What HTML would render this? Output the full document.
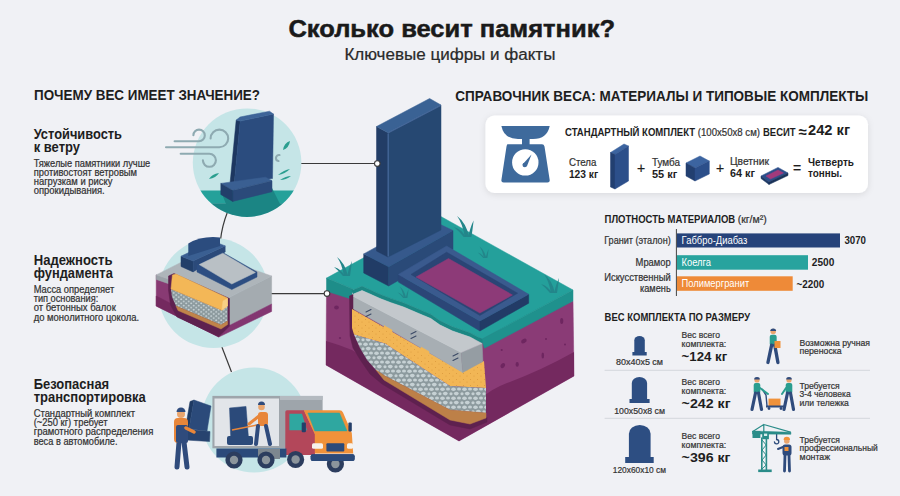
<!DOCTYPE html>
<html><head><meta charset="utf-8"><style>
html,body{margin:0;padding:0;background:#f0f1f5;}
svg{display:block;font-family:"Liberation Sans",sans-serif;}
</style></head><body>
<svg width="900" height="496" viewBox="0 0 900 496">
<rect width="900" height="496" fill="#f0f1f5"/>
<defs><clipPath id="c1"><circle cx="247.1" cy="162.7" r="54.3"/></clipPath>
<pattern id="grav2" width="5" height="4.2" patternUnits="userSpaceOnUse"><rect width="5" height="4.2" fill="#8c9a9e"/><ellipse cx="1.2" cy="1.1" rx="1.05" ry="0.85" fill="#c6d1d4"/><ellipse cx="3.7" cy="3.1" rx="1.05" ry="0.85" fill="#c6d1d4"/></pattern>
<pattern id="sandp" width="7" height="6" patternUnits="userSpaceOnUse"><rect width="7" height="6" fill="#f2b655"/><circle cx="1.5" cy="1.5" r="0.5" fill="#d9963a"/><circle cx="5" cy="4" r="0.5" fill="#d9963a"/></pattern>
<pattern id="grav" width="11" height="9" patternUnits="userSpaceOnUse"><rect width="11" height="9" fill="#8c9a9e"/><ellipse cx="2.5" cy="2.3" rx="2.3" ry="1.8" fill="#c6d1d4"/><ellipse cx="8" cy="2" rx="2" ry="1.6" fill="#c6d1d4"/><ellipse cx="5.3" cy="6.6" rx="2.4" ry="1.8" fill="#c6d1d4"/><ellipse cx="0" cy="6.8" rx="1.6" ry="1.5" fill="#c6d1d4"/><ellipse cx="11" cy="6.8" rx="1.6" ry="1.5" fill="#c6d1d4"/></pattern>
<filter id="sh" x="-10%" y="-20%" width="120%" height="150%"><feDropShadow dx="0" dy="1.5" stdDeviation="3" flood-color="#000" flood-opacity="0.10"/></filter></defs>
<line x1="300" y1="163.5" x2="377" y2="163.5" stroke="#3a3a3a" stroke-width="1.2"/>
<line x1="269" y1="293.6" x2="327" y2="293.6" stroke="#3a3a3a" stroke-width="1.2"/>
<path d="M227.5,212 Q222,226 220.5,240" fill="none" stroke="#3a3a3a" stroke-width="1.2"/>
<path d="M221.5,346 L231.5,372" fill="none" stroke="#3a3a3a" stroke-width="1.2"/>
<circle cx="247.1" cy="162.7" r="54.3" fill="#c5e5e7"/>
<g clip-path="url(#c1)">
<rect x="190" y="190.5" width="120" height="13" fill="#24a19a"/>
<rect x="190" y="203.3" width="120" height="20" fill="#1b8584"/>
<path d="M222,194 L272,188 L280,204 L226,204 Z" fill="#1b8584"/>
</g>
<g fill="none" stroke="#8eaab1" stroke-width="2.1" stroke-linecap="round"><path d="M174.6,141.2 H199 A5.8,5.8 0 0 0 199,129.6 A5.6,5.6 0 0 0 193.4,135.2"/><path d="M166,147.2 H219.4 A8.8,8.8 0 0 0 219.4,129.6 A8.8,8.8 0 0 0 210.6,138.4"/><path d="M180.7,153.8 H209.4 A6.5,6.5 0 0 1 209.4,166.8 A6.5,6.5 0 0 1 202.9,160.3"/><path d="M279.5,155 a3,3 0 1 0 -1,6"/></g>
<g fill="#2a9e8f"><path d="M283,150 Q284,143 290,141 Q289,148 283,150Z"/><path d="M209,179 Q212,174 219,173 Q216,178 209,179Z"/><path d="M278,175 Q284,170 290,169 Q285,174 278,175Z"/><path d="M280,180 Q286,176 291,176 Q286,180 280,180Z"/></g>
<polygon points="236.2,120.1 240.2,121.1 234.2,183.6 230.1,182.6" fill="#1d3760" stroke="#1d3760" stroke-width="0.5" stroke-linejoin="round" />
<polygon points="240.2,121.1 273.5,114.1 272.5,178.6 234.2,183.6" fill="#2b4c7e" stroke="#2b4c7e" stroke-width="0.5" stroke-linejoin="round" />
<polygon points="236.2,120.1 240.0,117.0 269.5,111.2 273.5,114.1 240.2,121.1" fill="#3d6498" stroke="#3d6498" stroke-width="0.5" stroke-linejoin="round" />
<polygon points="220.8,183.4 265.5,177.2 272.0,180.8 232.7,190.6" fill="#3a5f92" stroke="#3a5f92" stroke-width="0.5" stroke-linejoin="round" />
<polygon points="232.7,190.6 272.0,180.8 272.0,191.7 232.7,201.4" fill="#2b4a7a" stroke="#2b4a7a" stroke-width="0.5" stroke-linejoin="round" />
<polygon points="220.8,183.4 232.7,190.6 232.7,201.4 220.8,194.5" fill="#223f6a" stroke="#223f6a" stroke-width="0.5" stroke-linejoin="round" />
<circle cx="213.5" cy="293" r="55" fill="#c5e5e7"/>
<polygon points="156.2,274.9 225.4,299.3 218.8,337.0 156.2,306.0" fill="#883a73" stroke="#883a73" stroke-width="0.5" stroke-linejoin="round" />
<polygon points="156.2,296.0 218.8,328.0 218.8,337.0 156.2,306.0" fill="#74295f" stroke="#74295f" stroke-width="0.5" stroke-linejoin="round" />
<polygon points="156.2,274.9 225.4,299.3 225.4,303.5 156.2,279.4" fill="#9aa2a8" stroke="#9aa2a8" stroke-width="0.5" stroke-linejoin="round" />
<polygon points="225.4,299.3 271.6,276.0 271.6,304.0 225.4,327.5" fill="#a4abb0" stroke="#a4abb0" stroke-width="0.5" stroke-linejoin="round" />
<polygon points="225.4,327.5 271.6,304.0 271.6,311.5 218.8,337.0" fill="#833671" stroke="#833671" stroke-width="0.5" stroke-linejoin="round" />
<polygon points="156.2,274.9 202.4,251.6 271.6,276.0 225.4,299.3" fill="#aeb5ba" stroke="#aeb5ba" stroke-width="0.5" stroke-linejoin="round" />
<polygon points="168.5,276.0 174.0,273.5 229.5,298.5 229.5,326.0 219.0,336.5 177.0,317.0 170.5,305.0 168.5,290.0" fill="#5e214f" stroke="#5e214f" stroke-width="0.5" stroke-linejoin="round" />
<polygon points="171.0,289.0 221.8,310.3 227.6,306.0 227.6,321.0 221.0,325.0 176.0,306.0 172.0,297.0" fill="url(#grav2)" />
<polygon points="176.0,306.0 221.0,325.0 227.6,321.0 227.6,324.5 221.0,329.0 178.0,310.5" fill="#c0844a" stroke="#c0844a" stroke-width="0.5" stroke-linejoin="round" />
<polygon points="172.4,275.0 176.0,274.0 227.5,298.0 227.5,306.0 221.8,310.3 171.0,289.0" fill="#f3b757" stroke="#f3b757" stroke-width="0.5" stroke-linejoin="round" />
<polygon points="221.8,310.3 227.5,306.0 227.5,298.5 223.0,301.0" fill="#f8cf84" stroke="#f8cf84" stroke-width="0.5" stroke-linejoin="round" />
<polygon points="181.0,256.2 193.1,261.0 193.1,271.9 181.0,266.5" fill="#223f6a" stroke="#223f6a" stroke-width="0.5" stroke-linejoin="round" />
<polygon points="193.1,261.0 225.2,245.9 225.2,252.0 193.1,271.9" fill="#2b4a7a" stroke="#2b4a7a" stroke-width="0.5" stroke-linejoin="round" />
<polygon points="181.0,256.2 213.0,241.0 225.2,245.9 193.1,261.0" fill="#3a5f92" stroke="#3a5f92" stroke-width="0.5" stroke-linejoin="round" />
<path d="M188.3,256 L188.3,243.5 Q202,235.5 220,237.5 L220,246 Z" fill="#2b4c7e"/>
<polygon points="197.0,265.0 222.8,252.5 257.0,272.0 257.0,277.0 231.8,289.5 197.0,272.0" fill="#2d4e82" stroke="#2d4e82" stroke-width="0.5" stroke-linejoin="round" />
<polygon points="199.2,264.6 222.8,253.2 255.4,272.5 231.8,284.0" fill="#b9c0c5" stroke="#b9c0c5" stroke-width="0.5" stroke-linejoin="round" />
<circle cx="254" cy="420" r="52.5" fill="#c5e5e7"/>
<rect x="212.4" y="395.9" width="110.2" height="52.4" fill="#9ea5ab"/>
<rect x="214.5" y="398.5" width="64.5" height="47.5" fill="#e2e5e9"/>
<rect x="280" y="396" width="42.6" height="4" fill="#b4bac0"/>
<polygon points="229.5,408.0 246.0,406.4 249.0,444.4 231.0,444.4" fill="#2b4a7a" stroke="#2b4a7a" stroke-width="0.5" stroke-linejoin="round" />
<rect x="227" y="436" width="26" height="9" rx="2" fill="#2b4a7a"/>
<path d="M232,430 L262,424" stroke="#e8863a" stroke-width="1.6"/>
<rect x="258" y="412" width="10" height="14" rx="3" fill="#e8863a"/>
<path d="M258,426 L256,444 M266,426 L270,444" stroke="#2f4b7c" stroke-width="4" stroke-linecap="round"/>
<circle cx="261.5" cy="407" r="3.3" fill="#e9a56e"/>
<path d="M258,405 a3.5,3.5 0 0 1 7,0 Z" fill="#2f4b7c"/>
<path d="M259,416 L249,424" stroke="#e8863a" stroke-width="3" stroke-linecap="round"/>
<path d="M285.3,412 Q285.3,410.3 287,410.3 L304,410.3 L315,434 L315,455 L285.3,455 Z" fill="#b3475a"/>
<path d="M289.4,413.7 L302,413.7 L307,430.2 L289.4,430.2 Z" fill="#2fa7a0"/>
<path d="M303.8,410.3 L339.5,410.3 Q342,410.3 343,412.5 L351.8,432.9 L353.2,453.5 L314.8,453.5 L314.8,434.3 Z" fill="#f0923a"/>
<polygon points="307.9,413.0 339.5,413.0 347.0,430.9 314.8,430.9" fill="#2fa7a0" stroke="#2fa7a0" stroke-width="0.5" stroke-linejoin="round" />
<rect x="301.7" y="422.6" width="4.2" height="9.6" rx="1" fill="#243f69"/>
<rect x="348.4" y="422.6" width="3.4" height="9" rx="1" fill="#243f69"/>
<rect x="312" y="443.2" width="11" height="5.5" rx="1.5" fill="#f6f2ec"/>
<rect x="347" y="443.2" width="6" height="5.5" rx="1.5" fill="#f6f2ec"/>
<rect x="326.4" y="443.2" width="17.9" height="8.2" rx="1" fill="#2b4a7a"/>
<rect x="310.7" y="454.2" width="43.9" height="6.8" rx="2" fill="#2b4a7a"/>
<rect x="216.4" y="448.5" width="70" height="9" fill="#2b4a7a"/>
<rect x="258" y="449" width="22" height="10" fill="#7d878f"/>
<circle cx="234" cy="460" r="8.6" fill="#2c3d5e"/><circle cx="234" cy="460" r="4.2" fill="#8c959c"/>
<circle cx="266" cy="460" r="8.6" fill="#2c3d5e"/><circle cx="266" cy="460" r="4.2" fill="#8c959c"/>
<circle cx="295.6" cy="459.5" r="8.6" fill="#2c3d5e"/><circle cx="295.6" cy="459.5" r="4.2" fill="#8c959c"/>
<circle cx="335.4" cy="464" r="8.6" fill="#2c3d5e"/><circle cx="335.4" cy="464" r="4.2" fill="#8c959c"/>
<rect x="310.7" y="454.2" width="43.9" height="6.8" rx="2" fill="#2b4a7a"/>
<polygon points="190.0,401.5 194.0,400.0 189.0,429.0 185.5,428.0" fill="#1f3a63" stroke="#1f3a63" stroke-width="0.5" stroke-linejoin="round" />
<polygon points="194.0,400.0 211.0,406.0 207.0,431.0 189.0,429.0" fill="#2b4a7a" stroke="#2b4a7a" stroke-width="0.5" stroke-linejoin="round" />
<polygon points="185.6,429.0 210.0,431.5 209.6,441.5 185.6,440.0" fill="#27436f" stroke="#27436f" stroke-width="0.5" stroke-linejoin="round" />
<path d="M179,442 L177,467 M184,442 L187,467" stroke="#2f4b7c" stroke-width="5" stroke-linecap="round"/>
<rect x="174" y="418" width="14" height="25" rx="4" fill="#e8863a"/>
<rect x="176" y="425" width="12" height="18" rx="2" fill="#2f4b7c"/>
<circle cx="181" cy="414" r="4" fill="#e9a56e"/>
<path d="M176.5,412 a4.5,4.5 0 0 1 9,0 Z" fill="#2f4b7c"/>
<path d="M186,428 L194,432" stroke="#e8863a" stroke-width="3.5" stroke-linecap="round"/>
<polygon points="326.5,290.5 352.5,298.5 461.0,360.0 459.0,441.0 326.0,365.0" fill="#883a73" stroke="#883a73" stroke-width="0.5" stroke-linejoin="round" />
<polygon points="461.0,345.0 573.0,301.0 574.0,376.0 459.0,441.0" fill="#8a3b76" stroke="#8a3b76" stroke-width="0.5" stroke-linejoin="round" />
<path d="M326,341 Q340,345 352,350 L470,430 L459,441 L326,365 Z" fill="#74295f"/>
<path d="M462,425 Q475,395 507,383 Q540,371 574,352 L574,376 L459,441 Z" fill="#74295f"/>
<g fill="#6e2660"><ellipse cx="523.9" cy="341" rx="3" ry="2" transform="rotate(-30 523.9 341)"/><ellipse cx="561.7" cy="321" rx="1.6" ry="3"/><ellipse cx="502.8" cy="365.6" rx="2" ry="2.8" transform="rotate(30 502.8 365.6)"/><ellipse cx="517.2" cy="364.4" rx="1.6" ry="2.4"/><ellipse cx="542.8" cy="355.6" rx="1.3" ry="3"/><circle cx="501.7" cy="350" r="1.1"/><circle cx="546" cy="339" r="1"/><circle cx="565" cy="344.4" r="1"/><ellipse cx="336.5" cy="307.5" rx="2.4" ry="2"/><circle cx="340" cy="338" r="1.1"/></g>
<polygon points="326.5,278.1 440.0,216.0 573.0,290.0 482.1,339.3 470.0,332.8 452.6,326.8 440.0,320.8 430.8,314.3 420.0,309.8 403.6,302.8 391.0,298.5 380.0,294.3 370.0,289.8 362.0,286.3 353.5,289.8 352.2,288.7" fill="#24a09b" stroke="#24a09b" stroke-width="0.5" stroke-linejoin="round" />
<polygon points="326.5,278.1 352.2,288.7 352.0,299.3 326.5,291.2" fill="#1e8d89" stroke="#1e8d89" stroke-width="0.5" stroke-linejoin="round" />
<polygon points="481.3,339.4 573.0,290.0 573.0,301.0 484.5,348.2" fill="#1f918d" stroke="#1f918d" stroke-width="0.5" stroke-linejoin="round" />
<polygon points="352.0,289.0 353.5,289.8 362.0,286.3 370.0,289.8 380.0,294.3 391.0,298.5 403.6,302.8 420.0,309.8 430.8,314.3 440.0,320.8 452.6,326.8 470.0,332.8 482.1,339.3 482.1,343.5 470.0,337.0 452.6,331.0 440.0,325.0 430.8,318.5 420.0,314.0 403.6,307.0 391.0,302.7 380.0,298.5 370.0,294.0 362.0,290.5 353.5,294.0 352.0,292.0" fill="#1b8783" stroke="#1b8783" stroke-width="0.5" stroke-linejoin="round" />
<polygon points="349.5,296.0 354.0,294.0 354.0,335.0 359.0,347.0 366.0,358.0 374.0,369.0 385.0,379.0 450.0,420.0 470.0,424.0 487.0,417.0 487.0,422.0 470.0,429.0 450.0,425.0 382.0,384.0 370.0,374.0 361.0,361.0 353.0,348.0 350.0,336.0" fill="#5e214f" stroke="#5e214f" stroke-width="0.5" stroke-linejoin="round" />
<polygon points="352.0,309.0 461.0,371.0 484.0,361.0 486.0,388.0 450.0,386.0 385.0,343.5 354.0,334.4 352.0,328.0" fill="url(#sandp)" />
<polygon points="354.0,334.4 385.0,343.5 450.0,386.0 486.0,388.0 486.0,413.0 450.0,410.0 385.0,376.0 376.0,370.0 367.0,360.0 360.0,348.0" fill="url(#grav)" />
<polygon points="376.0,370.0 385.0,376.0 450.0,410.0 486.0,413.0 486.0,418.0 470.0,424.0 450.0,420.0 384.0,380.0" fill="#bd8048" stroke="#bd8048" stroke-width="0.5" stroke-linejoin="round" />
<polygon points="353.5,296.5 461.1,352.5 462.7,372.5 380.0,324.0 353.5,309.0" fill="#a7aeb3" stroke="#a7aeb3" stroke-width="0.5" stroke-linejoin="round" />
<polygon points="461.1,352.5 482.1,343.5 482.9,361.5 462.7,372.5" fill="#959da3" stroke="#959da3" stroke-width="0.5" stroke-linejoin="round" />
<polygon points="353.5,294.0 362.0,290.5 370.0,294.0 380.0,298.5 391.0,302.7 403.6,307.0 420.0,314.0 430.8,318.5 440.0,325.0 452.6,331.0 470.0,337.0 482.1,343.5 461.1,352.5 353.5,296.5" fill="#c3c8cc" stroke="#c3c8cc" stroke-width="0.5" stroke-linejoin="round" />
<polygon points="384.0,325.5 392.0,330.0 392.0,334.0 384.0,329.5" fill="#f2b655" stroke="#f2b655" stroke-width="0.5" stroke-linejoin="round" />
<polygon points="421.0,347.0 429.0,351.5 429.0,355.5 421.0,351.0" fill="#f2b655" stroke="#f2b655" stroke-width="0.5" stroke-linejoin="round" />
<g stroke="#3b4a66" stroke-width="1.1" stroke-linecap="round"><path d="M366,312 l5,-2.5 M366,316.5 l5,-2.5 M411,334 l5,-2.5 M411,338.5 l5,-2.5 M453,356 l5,-2.5 M453,360.5 l5,-2.5"/></g>
<polygon points="363.7,253.9 388.7,266.8 388.7,286.0 363.7,273.0" fill="#213c66" stroke="#213c66" stroke-width="0.5" stroke-linejoin="round" />
<polygon points="388.7,266.8 453.0,230.5 453.0,249.5 388.7,286.0" fill="#2a4a78" stroke="#2a4a78" stroke-width="0.5" stroke-linejoin="round" />
<polygon points="363.7,253.9 428.0,218.5 453.0,230.5 388.7,266.8" fill="#36598c" stroke="#36598c" stroke-width="0.5" stroke-linejoin="round" />
<polygon points="376.5,126.5 388.0,132.7 388.0,257.0 376.5,251.0" fill="#223d66" stroke="#223d66" stroke-width="0.5" stroke-linejoin="round" />
<polygon points="388.0,132.7 441.0,105.0 441.0,230.0 388.0,257.0" fill="#264872" stroke="#264872" stroke-width="0.5" stroke-linejoin="round" />
<polygon points="376.5,126.5 429.6,98.5 441.0,105.0 388.0,132.7" fill="#3a6294" stroke="#3a6294" stroke-width="0.5" stroke-linejoin="round" />
<path d="M388.2,133.5 V256.5" stroke="#46679a" stroke-width="1.3"/>
<path d="M388.2,133 L441,105.5" stroke="#46679a" stroke-width="0.9"/>
<polygon points="398.4,274.4 479.9,321.0 479.9,331.0 398.4,282.1" fill="#2b4677" stroke="#2b4677" stroke-width="0.5" stroke-linejoin="round" />
<polygon points="479.9,321.0 528.7,294.3 528.7,303.2 479.9,331.0" fill="#223b66" stroke="#223b66" stroke-width="0.5" stroke-linejoin="round" />
<polygon points="398.4,274.4 446.6,246.0 528.7,294.3 479.9,321.0" fill="#3a5a8e" stroke="#3a5a8e" stroke-width="0.5" stroke-linejoin="round" />
<polygon points="411.0,274.4 446.6,252.2 517.6,293.2 479.9,315.4" fill="#2a4575" stroke="#2a4575" stroke-width="0.5" stroke-linejoin="round" />
<polygon points="416.0,277.0 448.5,258.5 512.5,295.0 479.9,313.0" fill="#8d3a78" stroke="#8d3a78" stroke-width="0.5" stroke-linejoin="round" />
<g fill="#23868a"><path d="M344.0,276 Q342.0,264.0 337.0,257.0 Q345.0,263.0 348.0,276 Z"/><path d="M347.0,276 Q349.0,267.0 352.0,261.0 Q351.0,270.0 350.0,276 Z"/><path d="M343.0,276 Q339.0,271.0 334.0,267.0 Q341.0,269.0 345.0,276 Z"/></g>
<g fill="#23868a"><path d="M464.8,237 Q462.6,223.8 457.1,216.1 Q465.9,222.7 469.2,237 Z"/><path d="M468.1,237 Q470.3,227.1 473.6,220.5 Q472.5,230.4 471.4,237 Z"/><path d="M463.7,237 Q459.3,231.5 453.8,227.1 Q461.5,229.3 465.9,237 Z"/></g>
<g fill="#23868a"><path d="M483.8,258 Q482.6,250.8 479.6,246.6 Q484.4,250.2 486.2,258 Z"/><path d="M485.6,258 Q486.8,252.6 488.6,249.0 Q488.0,254.4 487.4,258 Z"/><path d="M483.2,258 Q480.8,255.0 477.8,252.6 Q482.0,253.8 484.4,258 Z"/></g>
<g fill="#23868a"><path d="M551.0,293 Q549.0,281.0 544.0,274.0 Q552.0,280.0 555.0,293 Z"/><path d="M554.0,293 Q556.0,284.0 559.0,278.0 Q558.0,287.0 557.0,293 Z"/><path d="M550.0,293 Q546.0,288.0 541.0,284.0 Q548.0,286.0 552.0,293 Z"/></g>
<g fill="#23868a"><path d="M403.8,298 Q402.6,290.8 399.6,286.6 Q404.4,290.2 406.2,298 Z"/><path d="M405.6,298 Q406.8,292.6 408.6,289.0 Q408.0,294.4 407.4,298 Z"/><path d="M403.2,298 Q400.8,295.0 397.8,292.6 Q402.0,293.8 404.4,298 Z"/></g>
<circle cx="377.3" cy="163.5" r="2.8" fill="#fff" stroke="#3a3a3a" stroke-width="1.1"/>
<circle cx="327" cy="293.6" r="2.8" fill="#fff" stroke="#3a3a3a" stroke-width="1.1"/>
<rect x="485.5" y="115.5" width="382.5" height="77.5" rx="9" fill="#ffffff" filter="url(#sh)"/>
<path d="M501.4,126 H549.7 Q547,139 533,139 H518 Q504,139 501.4,126 Z" fill="#3e6a9c"/>
<rect x="522" y="138" width="7.6" height="7" fill="#3e6a9c"/>
<path d="M507.5,144.2 H542 Q544,144.2 544.5,146.5 L549.7,180 Q550,182.5 547.5,182.5 H503.6 Q501,182.5 501.4,180 L506.5,146.5 Q507,144.2 507.5,144.2 Z" fill="#3e6a9c"/>
<circle cx="525.3" cy="162.4" r="13.2" fill="#ffffff"/>
<path d="M522.5,164.5 L531.5,154.5 L527,166 Z" fill="#3e6a9c"/><circle cx="524.8" cy="165" r="2.3" fill="#3e6a9c"/>
<polygon points="610.5,152.5 624.0,144.0 628.5,146.0 615.0,154.5" fill="#3c64a0" stroke="#3c64a0" stroke-width="0.5" stroke-linejoin="round" />
<polygon points="610.5,152.5 615.0,154.5 615.0,189.0 610.5,187.0" fill="#223f70" stroke="#223f70" stroke-width="0.5" stroke-linejoin="round" />
<polygon points="615.0,154.5 628.5,146.0 628.5,181.0 615.0,189.0" fill="#2c4f8a" stroke="#2c4f8a" stroke-width="0.5" stroke-linejoin="round" />
<polygon points="686.0,163.0 700.0,156.0 709.3,161.0 695.0,168.0" fill="#3c64a0" stroke="#3c64a0" stroke-width="0.5" stroke-linejoin="round" />
<polygon points="686.0,163.0 695.0,168.0 695.0,181.0 686.0,176.0" fill="#223f70" stroke="#223f70" stroke-width="0.5" stroke-linejoin="round" />
<polygon points="695.0,168.0 709.3,161.0 709.3,174.0 695.0,181.0" fill="#2c4f8a" stroke="#2c4f8a" stroke-width="0.5" stroke-linejoin="round" />
<polygon points="761.0,176.0 778.0,167.4 788.0,173.0 769.0,182.0" fill="#2c4f8a" stroke="#2c4f8a" stroke-width="0.5" stroke-linejoin="round" />
<polygon points="761.0,176.0 769.0,182.0 769.0,184.5 761.0,178.5" fill="#1f3a66" stroke="#1f3a66" stroke-width="0.5" stroke-linejoin="round" />
<polygon points="769.0,182.0 788.0,173.0 788.0,175.5 769.0,184.5" fill="#1a3359" stroke="#1a3359" stroke-width="0.5" stroke-linejoin="round" />
<polygon points="766.0,176.0 778.0,170.0 783.5,173.0 770.5,179.0" fill="#a23a7c" stroke="#a23a7c" stroke-width="0.5" stroke-linejoin="round" />
<line x1="676.4" y1="229" x2="676.4" y2="296" stroke="#444" stroke-width="1"/>
<rect x="677" y="233.4" width="163" height="14.1" fill="#26437a"/>
<rect x="677" y="255.2" width="131" height="14.5" fill="#28a39e"/>
<rect x="677" y="276.3" width="115.7" height="14.5" fill="#ee8a38"/>
<line x1="604.6" y1="370.3" x2="870" y2="370.3" stroke="#d4d7dc" stroke-width="1"/>
<line x1="604.6" y1="418.3" x2="870" y2="418.3" stroke="#d4d7dc" stroke-width="1"/>
<path d="M634.3,352 V340.25 A5.25,4.2 0 0 1 644.8,340.25 V352 Z" fill="#2d4e82"/><rect x="632.4" y="352" width="14.300000000000068" height="3.5" fill="#2d4e82"/>
<path d="M631.8,399 V383.05 A7.650000000000034,6.120000000000028 0 0 1 647.1,383.05 V399 Z" fill="#2d4e82"/><rect x="629.5" y="399" width="20.100000000000023" height="4" fill="#2d4e82"/>
<path d="M628.9,457 V433.65000000000003 A10.850000000000023,8.68000000000002 0 0 1 650.6,433.65000000000003 V457 Z" fill="#2d4e82"/><rect x="625.2" y="457" width="28.5" height="6" fill="#2d4e82"/>
<circle cx="773.2" cy="331.5" r="2.7300000000000004" fill="#e9a56e"/><path d="M770.26,330.975 a2.8,2.4 0 0 1 5.88,0 Z" fill="#2f4b7c"/><rect x="769.735" y="334.65" width="6.93" height="11.55" rx="2.1" fill="#2a9d8f"/><path d="M771.625,345.15 L767.95,362.475 M774.7750000000001,345.15 L777.9250000000001,362.475" stroke="#2f4b7c" stroke-width="3.3600000000000003" stroke-linecap="round"/>
<rect x="774.5" y="341" width="6" height="7" fill="#f0923a"/>
<circle cx="757" cy="380" r="2.6" fill="#e9a56e"/><path d="M754.2,379.5 a2.8,2.4 0 0 1 5.6,0 Z" fill="#2f4b7c"/><rect x="753.7" y="383.0" width="6.6" height="11.0" rx="2.0" fill="#2a9d8f"/><path d="M755.5,393.0 L752.0,409.5 M758.5,393.0 L761.5,409.5" stroke="#2f4b7c" stroke-width="3.2" stroke-linecap="round"/>
<circle cx="789" cy="380" r="2.6" fill="#e9a56e"/><path d="M786.2,379.5 a2.8,2.4 0 0 1 5.6,0 Z" fill="#2f4b7c"/><rect x="785.7" y="383.0" width="6.6" height="11.0" rx="2.0" fill="#2a9d8f"/><path d="M787.5,393.0 L784.0,409.5 M790.5,393.0 L793.5,409.5" stroke="#2f4b7c" stroke-width="3.2" stroke-linecap="round"/>
<path d="M762,389 L766,395 L767,406" stroke="#2f4b7c" stroke-width="1.4" fill="none"/>
<rect x="768.5" y="398.6" width="12" height="7.5" fill="#f0923a"/>
<rect x="766" y="405.5" width="18" height="2" fill="#2f4b7c"/>
<circle cx="769" cy="408.5" r="1.4" fill="#2f4b7c"/><circle cx="781" cy="408.5" r="1.4" fill="#2f4b7c"/>
<path d="M760,388 L768,394 M786,388 L782,394" stroke="#2a9d8f" stroke-width="2" stroke-linecap="round"/>
<g stroke="#2a8c89" fill="none" stroke-linecap="round"><path d="M761.8,438 V470 M766.4,438 V470" stroke-width="1.6"/><path d="M762,440 L766.2,445 L762,450 L766.2,455 L762,460 L766.2,465 L762,469" stroke-width="1"/><path d="M763.8,424.5 L752.8,431.5 M763.8,424.5 L790.5,432.2 M763.8,424.5 V432" stroke-width="1.2"/><path d="M776.6,434 V439.5 a2.2,2.2 0 1 1 -2.2,2.4" stroke="#2b4a7a" stroke-width="1.3"/></g>
<polygon points="752.5,431.0 790.9,432.3 790.9,434.3 752.5,434.0" fill="#2a8c89" stroke="#2a8c89" stroke-width="0.5" stroke-linejoin="round" />
<rect x="752.5" y="431" width="7.9" height="7" fill="#2a8c89"/>
<rect x="762.2" y="432.4" width="6.7" height="6.8" fill="#2a8c89"/>
<rect x="764" y="433.6" width="3.2" height="2.4" fill="#d6ecec"/>
<rect x="758.2" y="469.5" width="13.5" height="2.6" fill="#2a8c89"/>
<circle cx="786.8" cy="441" r="2.8" fill="#e9a56e"/>
<path d="M783.6,440 a3.2,3.2 0 0 1 6.4,0 Z" fill="#f0923a"/>
<rect x="782.5" y="444.5" width="9" height="11" rx="2.5" fill="#2f4b7c"/>
<path d="M785,455 L784.5,471 M789,455 L789.5,471" stroke="#2f4b7c" stroke-width="2.8" stroke-linecap="round"/>
<path d="M783,447 L778,449" stroke="#2f4b7c" stroke-width="2" stroke-linecap="round"/>
<rect x="784.5" y="447" width="4" height="4" fill="#f0923a"/>
<text x="288.4" y="37" font-size="24" font-weight="700" fill="#1a1a1a" textLength="326.6" lengthAdjust="spacingAndGlyphs" stroke="#1a1a1a" stroke-width="0.5">Сколько весит памятник?</text>
<text x="344.4" y="60.4" font-size="16" font-weight="400" fill="#2a2a2a" textLength="211" lengthAdjust="spacingAndGlyphs" stroke="#2a2a2a" stroke-width="0.22">Ключевые цифры и факты</text>
<text x="34" y="100" font-size="15" font-weight="700" fill="#1e1e1e" textLength="226" lengthAdjust="spacingAndGlyphs">ПОЧЕМУ ВЕС ИМЕЕТ ЗНАЧЕНИЕ?</text>
<text x="455.3" y="100.5" font-size="15" font-weight="700" fill="#1e1e1e" textLength="413" lengthAdjust="spacingAndGlyphs">СПРАВОЧНИК ВЕСА: МАТЕРИАЛЫ И ТИПОВЫЕ КОМПЛЕКТЫ</text>
<text x="33.7" y="139" font-size="14" font-weight="700" fill="#1e1e1e" textLength="88.3" lengthAdjust="spacingAndGlyphs">Устойчивость</text>
<text x="33.7" y="152.3" font-size="14" font-weight="700" fill="#1e1e1e" textLength="46.3" lengthAdjust="spacingAndGlyphs">к ветру</text>
<text x="33.7" y="166.7" font-size="10" font-weight="400" fill="#333333" textLength="116.6" lengthAdjust="spacingAndGlyphs" stroke="#333333" stroke-width="0.22">Тяжелые памятники лучше</text>
<text x="33.7" y="175.8" font-size="10" font-weight="400" fill="#333333" textLength="103.3" lengthAdjust="spacingAndGlyphs" stroke="#333333" stroke-width="0.22">противостоят ветровым</text>
<text x="33.7" y="185.3" font-size="10" font-weight="400" fill="#333333" textLength="78.8" lengthAdjust="spacingAndGlyphs" stroke="#333333" stroke-width="0.22">нагрузкам и риску</text>
<text x="33.7" y="194.2" font-size="10" font-weight="400" fill="#333333" textLength="71" lengthAdjust="spacingAndGlyphs" stroke="#333333" stroke-width="0.22">опрокидывания.</text>
<text x="33.7" y="264.7" font-size="14" font-weight="700" fill="#1e1e1e" textLength="78.8" lengthAdjust="spacingAndGlyphs">Надежность</text>
<text x="33.7" y="277.7" font-size="14" font-weight="700" fill="#1e1e1e" textLength="79.1" lengthAdjust="spacingAndGlyphs">фундамента</text>
<text x="33.7" y="292.5" font-size="10" font-weight="400" fill="#333333" textLength="80.5" lengthAdjust="spacingAndGlyphs" stroke="#333333" stroke-width="0.22">Масса определяет</text>
<text x="33.7" y="301.7" font-size="10" font-weight="400" fill="#333333" textLength="64.6" lengthAdjust="spacingAndGlyphs" stroke="#333333" stroke-width="0.22">тип основания:</text>
<text x="33.7" y="311.3" font-size="10" font-weight="400" fill="#333333" textLength="82.1" lengthAdjust="spacingAndGlyphs" stroke="#333333" stroke-width="0.22">от бетонных балок</text>
<text x="33.7" y="320.8" font-size="10" font-weight="400" fill="#333333" textLength="105.5" lengthAdjust="spacingAndGlyphs" stroke="#333333" stroke-width="0.22">до монолитного цокола.</text>
<text x="33.7" y="388.7" font-size="14" font-weight="700" fill="#1e1e1e" textLength="75.5" lengthAdjust="spacingAndGlyphs">Безопасная</text>
<text x="33.7" y="401.7" font-size="14" font-weight="700" fill="#1e1e1e" textLength="112.1" lengthAdjust="spacingAndGlyphs">транспортировка</text>
<text x="33.7" y="417" font-size="10" font-weight="400" fill="#333333" textLength="101.3" lengthAdjust="spacingAndGlyphs" stroke="#333333" stroke-width="0.22">Стандартный комплект</text>
<text x="33.7" y="425.8" font-size="10" font-weight="400" fill="#333333" textLength="73.8" lengthAdjust="spacingAndGlyphs" stroke="#333333" stroke-width="0.22">(~250 кг) требует</text>
<text x="33.7" y="435.3" font-size="10" font-weight="400" fill="#333333" textLength="119.6" lengthAdjust="spacingAndGlyphs" stroke="#333333" stroke-width="0.22">грамотного распределения</text>
<text x="33.7" y="445" font-size="10" font-weight="400" fill="#333333" textLength="83.8" lengthAdjust="spacingAndGlyphs" stroke="#333333" stroke-width="0.22">веса в автомобиле.</text>
<text x="565" y="136" font-size="10" font-weight="700" fill="#1e1e1e" textLength="130.1" lengthAdjust="spacingAndGlyphs">СТАНДАРТНЫЙ КОМПЛЕКТ</text>
<text x="697.8" y="136" font-size="10" font-weight="400" fill="#333333" textLength="62.2" lengthAdjust="spacingAndGlyphs" stroke="#333333" stroke-width="0.22">(100x50x8 см)</text>
<text x="763" y="136" font-size="10" font-weight="700" fill="#1e1e1e" textLength="32.6" lengthAdjust="spacingAndGlyphs">ВЕСИТ</text>
<text x="798.5" y="137" font-size="15" font-weight="700" fill="#1e1e1e">≈</text>
<text x="808" y="135.4" font-size="15" font-weight="700" fill="#1e1e1e" textLength="42" lengthAdjust="spacingAndGlyphs">242 кг</text>
<text x="568.9" y="165.7" font-size="10.5" font-weight="400" fill="#333333" textLength="27.5" lengthAdjust="spacingAndGlyphs" stroke="#333333" stroke-width="0.22">Стела</text>
<text x="568.9" y="177.6" font-size="10.5" font-weight="700" fill="#1e1e1e" textLength="29.3" lengthAdjust="spacingAndGlyphs">123 кг</text>
<text x="641" y="173" font-size="14" font-weight="400" fill="#1e1e1e" text-anchor="middle" stroke="#1e1e1e" stroke-width="0.22">+</text>
<text x="652" y="165.7" font-size="10.5" font-weight="400" fill="#333333" textLength="28" lengthAdjust="spacingAndGlyphs" stroke="#333333" stroke-width="0.22">Тумба</text>
<text x="652" y="177.6" font-size="10.5" font-weight="700" fill="#1e1e1e" textLength="25.3" lengthAdjust="spacingAndGlyphs">55 кг</text>
<text x="720" y="173" font-size="14" font-weight="400" fill="#1e1e1e" text-anchor="middle" stroke="#1e1e1e" stroke-width="0.22">+</text>
<text x="730" y="165" font-size="10.5" font-weight="400" fill="#333333" textLength="39" lengthAdjust="spacingAndGlyphs" stroke="#333333" stroke-width="0.22">Цветник</text>
<text x="730" y="177.4" font-size="10.5" font-weight="700" fill="#1e1e1e" textLength="25" lengthAdjust="spacingAndGlyphs">64 кг</text>
<text x="797" y="172.5" font-size="14" font-weight="400" fill="#1e1e1e" text-anchor="middle" stroke="#1e1e1e" stroke-width="0.22">=</text>
<text x="808" y="166" font-size="10.5" font-weight="700" fill="#1e1e1e" textLength="46" lengthAdjust="spacingAndGlyphs">Четверть</text>
<text x="808" y="177.4" font-size="10.5" font-weight="700" fill="#1e1e1e" textLength="34" lengthAdjust="spacingAndGlyphs">тонны.</text>
<text x="604.6" y="223.2" font-size="10.5" font-weight="700" fill="#1e1e1e" textLength="130.6" lengthAdjust="spacingAndGlyphs">ПЛОТНОСТЬ МАТЕРИАЛОВ</text>
<text x="737.7" y="223.2" font-size="10.5" font-weight="400" fill="#333333" textLength="29.1" lengthAdjust="spacingAndGlyphs" stroke="#333333" stroke-width="0.22">(кг/м²)</text>
<text x="670.7" y="244.3" font-size="10" font-weight="400" fill="#333333" text-anchor="end" textLength="66.5" lengthAdjust="spacingAndGlyphs" stroke="#333333" stroke-width="0.22">Гранит (эталон)</text>
<text x="670.7" y="266" font-size="10" font-weight="400" fill="#333333" text-anchor="end" textLength="35.1" lengthAdjust="spacingAndGlyphs" stroke="#333333" stroke-width="0.22">Мрамор</text>
<text x="670.7" y="280.7" font-size="10" font-weight="400" fill="#333333" text-anchor="end" textLength="66.5" lengthAdjust="spacingAndGlyphs" stroke="#333333" stroke-width="0.22">Искусственный</text>
<text x="670.7" y="291.6" font-size="10" font-weight="400" fill="#333333" text-anchor="end" textLength="30.7" lengthAdjust="spacingAndGlyphs" stroke="#333333" stroke-width="0.22">камень</text>
<text x="681.6" y="244.3" font-size="10" font-weight="400" fill="#ffffff" textLength="65.7" lengthAdjust="spacingAndGlyphs">Габбро-Диабаз</text>
<text x="681.6" y="266" font-size="10" font-weight="400" fill="#ffffff" textLength="29.3" lengthAdjust="spacingAndGlyphs">Коелга</text>
<text x="681.6" y="287.4" font-size="10" font-weight="400" fill="#ffffff" textLength="67.6" lengthAdjust="spacingAndGlyphs">Полимергранит</text>
<text x="844.4" y="244.3" font-size="10.5" font-weight="700" fill="#1e1e1e" textLength="21.6" lengthAdjust="spacingAndGlyphs">3070</text>
<text x="811.8" y="266" font-size="10.5" font-weight="700" fill="#1e1e1e" textLength="22.5" lengthAdjust="spacingAndGlyphs">2500</text>
<text x="796.5" y="287.8" font-size="10.5" font-weight="700" fill="#1e1e1e" textLength="27.8" lengthAdjust="spacingAndGlyphs">~2200</text>
<text x="604.6" y="320.7" font-size="10.5" font-weight="700" fill="#1e1e1e" textLength="145.6" lengthAdjust="spacingAndGlyphs">ВЕС КОМПЛЕКТА ПО РАЗМЕРУ</text>
<text x="616" y="365.3" font-size="9.5" font-weight="400" fill="#333333" textLength="47" lengthAdjust="spacingAndGlyphs" stroke="#333333" stroke-width="0.22">80x40x5 см</text>
<text x="614.2" y="413.7" font-size="9.5" font-weight="400" fill="#333333" textLength="50.8" lengthAdjust="spacingAndGlyphs" stroke="#333333" stroke-width="0.22">100x50x8 см</text>
<text x="612.8" y="473.1" font-size="9.5" font-weight="400" fill="#333333" textLength="53.2" lengthAdjust="spacingAndGlyphs" stroke="#333333" stroke-width="0.22">120x60x10 см</text>
<text x="681.6" y="337.6" font-size="9.5" font-weight="400" fill="#333333" textLength="38.3" lengthAdjust="spacingAndGlyphs" stroke="#333333" stroke-width="0.22">Вес всего</text>
<text x="681.6" y="346.8" font-size="9.5" font-weight="400" fill="#333333" textLength="44.6" lengthAdjust="spacingAndGlyphs" stroke="#333333" stroke-width="0.22">комплекта:</text>
<text x="681.6" y="360.5" font-size="13.5" font-weight="700" fill="#1e1e1e" textLength="45.6" lengthAdjust="spacingAndGlyphs">~124 кг</text>
<text x="681.6" y="385.3" font-size="9.5" font-weight="400" fill="#333333" textLength="38.3" lengthAdjust="spacingAndGlyphs" stroke="#333333" stroke-width="0.22">Вес всего</text>
<text x="681.6" y="394" font-size="9.5" font-weight="400" fill="#333333" textLength="44.6" lengthAdjust="spacingAndGlyphs" stroke="#333333" stroke-width="0.22">комплекта:</text>
<text x="681.6" y="408.3" font-size="13.5" font-weight="700" fill="#1e1e1e" textLength="49" lengthAdjust="spacingAndGlyphs">~242 кг</text>
<text x="681.6" y="439.3" font-size="9.5" font-weight="400" fill="#333333" textLength="38.3" lengthAdjust="spacingAndGlyphs" stroke="#333333" stroke-width="0.22">Вес всего</text>
<text x="681.6" y="448.2" font-size="9.5" font-weight="400" fill="#333333" textLength="44.6" lengthAdjust="spacingAndGlyphs" stroke="#333333" stroke-width="0.22">комплекта:</text>
<text x="681.6" y="462.4" font-size="13.5" font-weight="700" fill="#1e1e1e" textLength="48.9" lengthAdjust="spacingAndGlyphs">~396 кг</text>
<text x="799.4" y="346.2" font-size="9.5" font-weight="400" fill="#333333" textLength="70.6" lengthAdjust="spacingAndGlyphs" stroke="#333333" stroke-width="0.22">Возможна ручная</text>
<text x="799.4" y="354.3" font-size="9.5" font-weight="400" fill="#333333" textLength="42.3" lengthAdjust="spacingAndGlyphs" stroke="#333333" stroke-width="0.22">переноска</text>
<text x="799.4" y="388.5" font-size="9.5" font-weight="400" fill="#333333" textLength="40.3" lengthAdjust="spacingAndGlyphs" stroke="#333333" stroke-width="0.22">Требуется</text>
<text x="799.4" y="397" font-size="9.5" font-weight="400" fill="#333333" textLength="51.3" lengthAdjust="spacingAndGlyphs" stroke="#333333" stroke-width="0.22">3-4 человека</text>
<text x="799.4" y="405.6" font-size="9.5" font-weight="400" fill="#333333" textLength="49.5" lengthAdjust="spacingAndGlyphs" stroke="#333333" stroke-width="0.22">или тележка</text>
<text x="799.6" y="443" font-size="9.5" font-weight="400" fill="#333333" textLength="40.3" lengthAdjust="spacingAndGlyphs" stroke="#333333" stroke-width="0.22">Требуется</text>
<text x="799.6" y="450.9" font-size="9.5" font-weight="400" fill="#333333" textLength="78.2" lengthAdjust="spacingAndGlyphs" stroke="#333333" stroke-width="0.22">профессиональный</text>
<text x="799.6" y="459.8" font-size="9.5" font-weight="400" fill="#333333" textLength="30.5" lengthAdjust="spacingAndGlyphs" stroke="#333333" stroke-width="0.22">монтаж</text>
</svg>
</body></html>
